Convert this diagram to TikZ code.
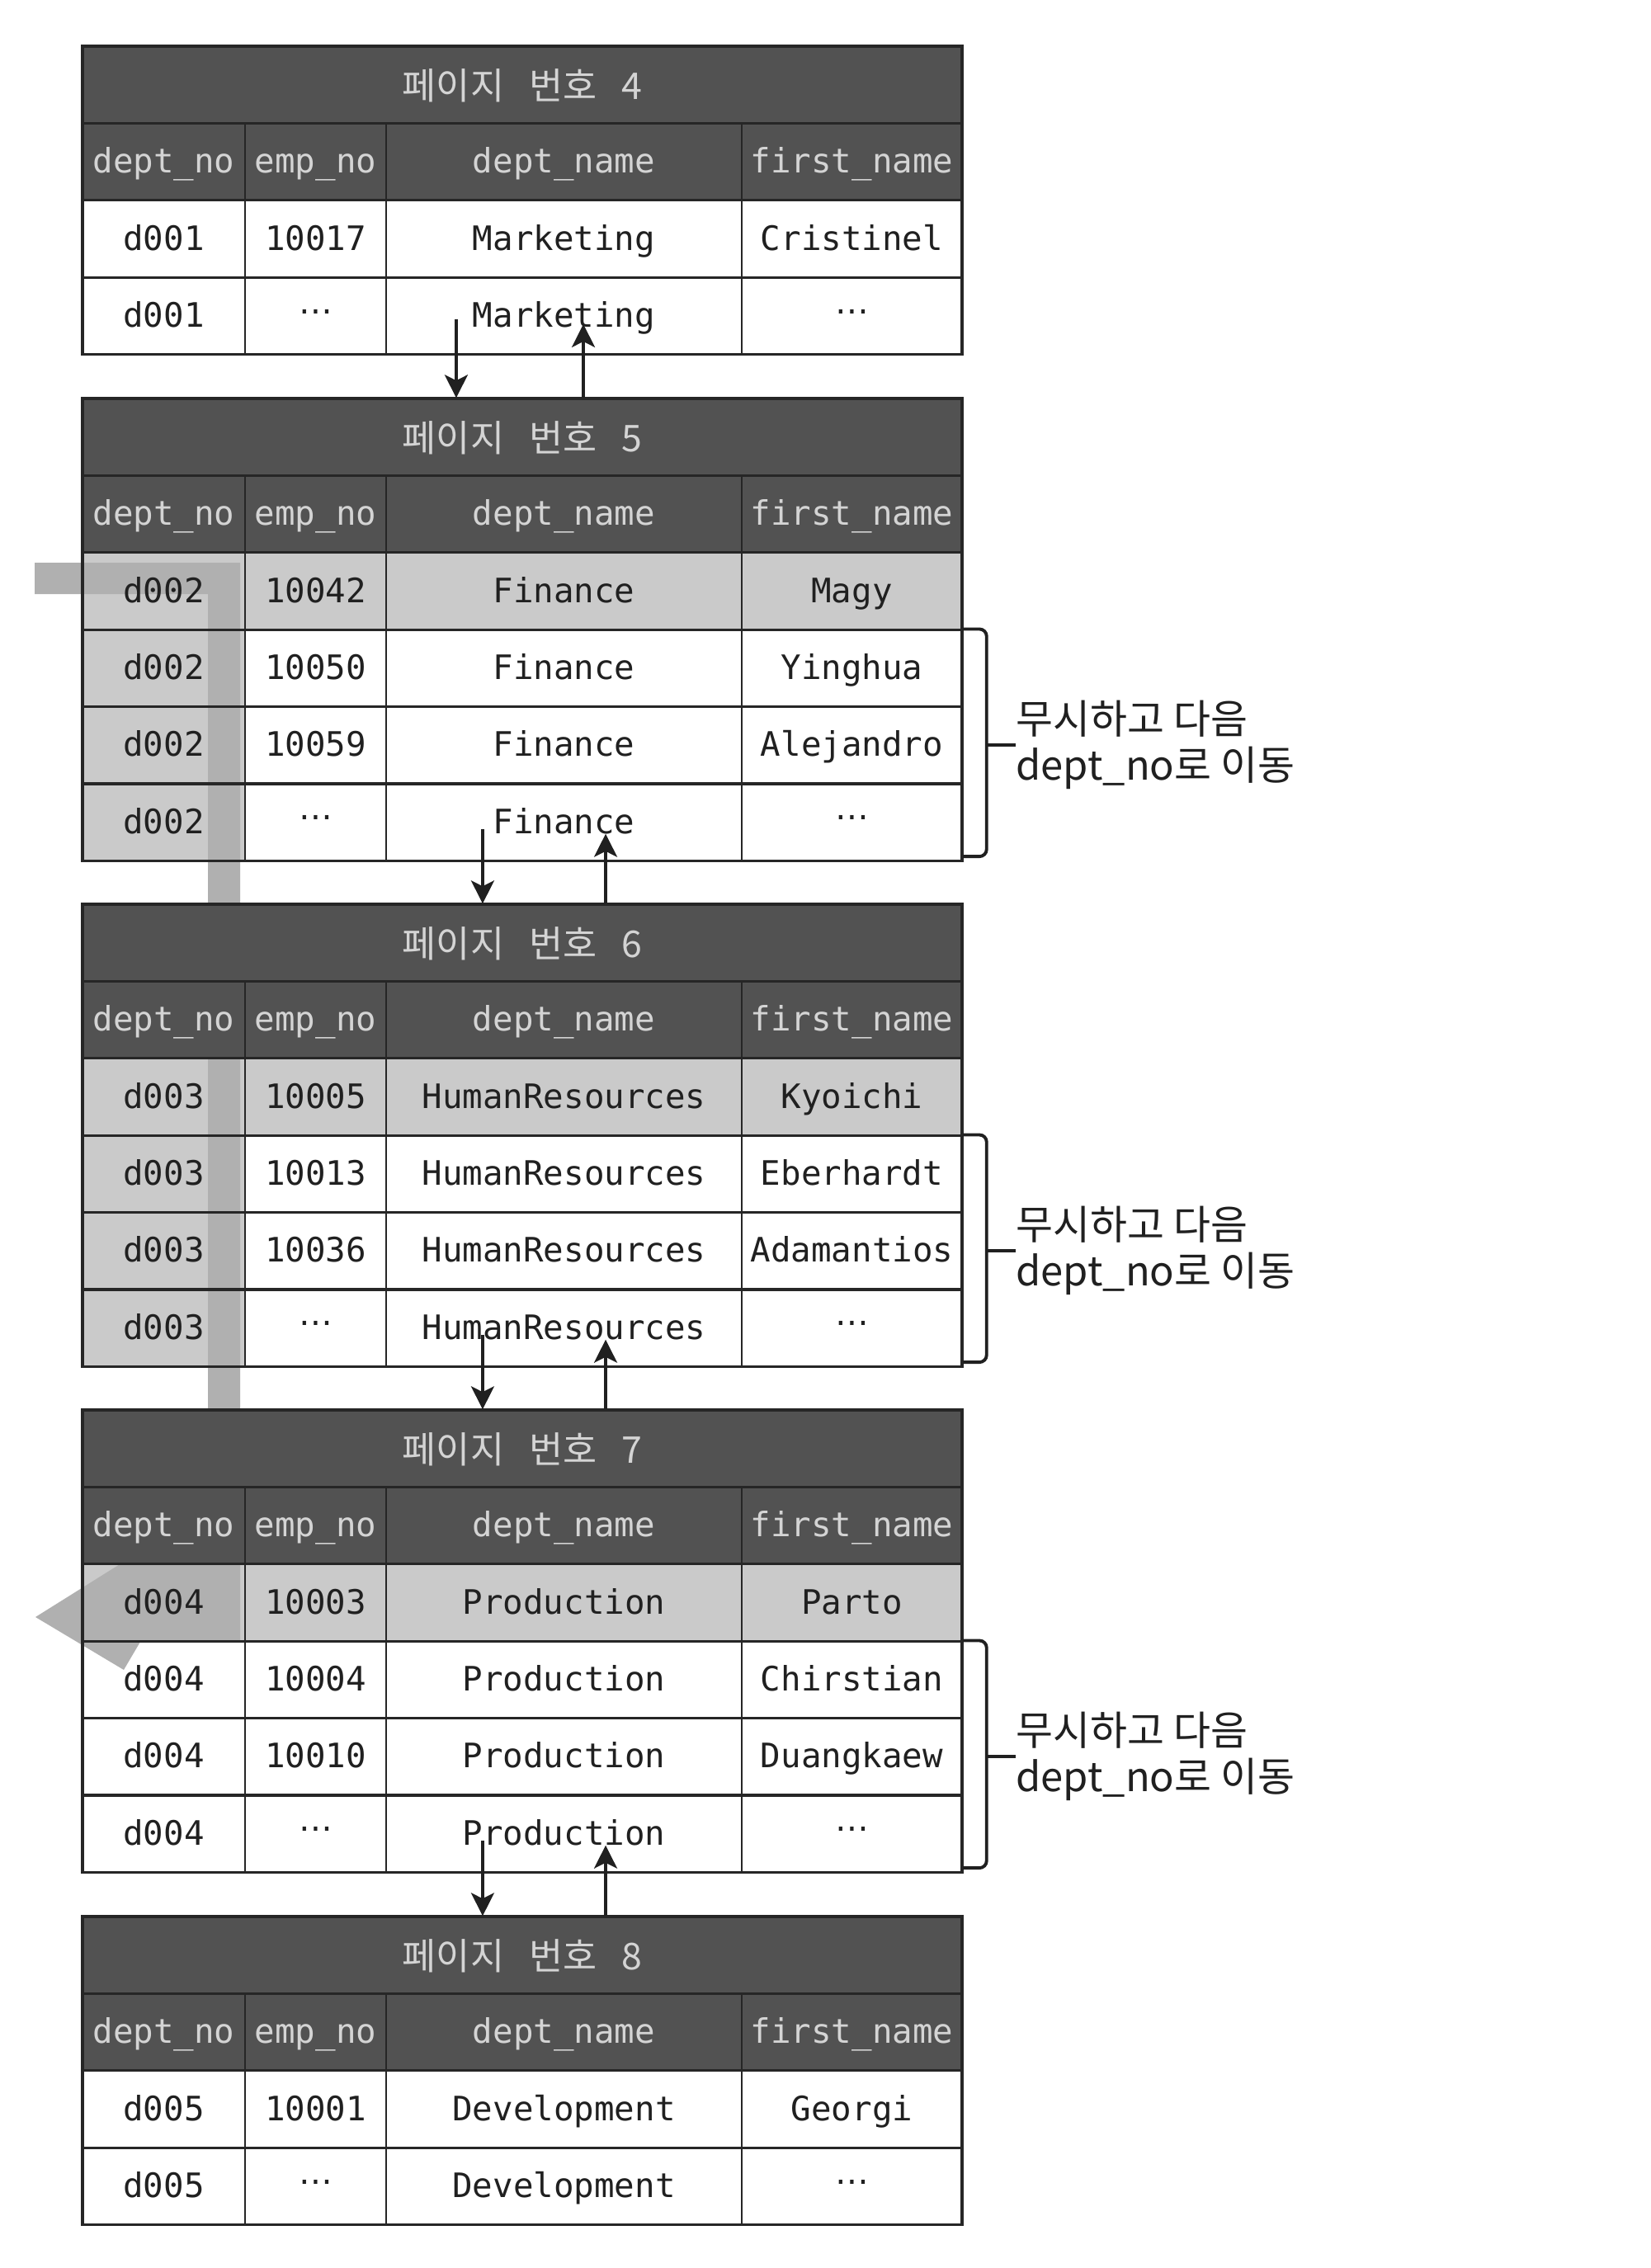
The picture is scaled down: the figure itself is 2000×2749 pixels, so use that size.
\documentclass[tikz,border=0pt]{standalone}
\usepackage{fontspec}
\newfontfamily\monof{DejaVu Sans Mono}
\newfontfamily\krf{Noto Sans CJK KR}
\newfontfamily\dvsf{DejaVu Sans}
\usetikzlibrary{arrows.meta,calc}
\pgfdeclarelayer{bgl}
\pgfdeclarelayer{bandl}
\pgfdeclarelayer{hdrl}
\pgfsetlayers{bgl,bandl,hdrl,main}
\definecolor{hl}{RGB}{202,202,202}
\definecolor{dark}{RGB}{82,82,82}
\definecolor{hdtxt}{RGB}{212,212,212}
\definecolor{bandc}{RGB}{176,176,176}
\definecolor{ink}{RGB}{32,32,32}
\definecolor{gridc}{RGB}{38,38,38}
\newcommand\mydots{\raisebox{0.4em}{\dvsf …}}
\tikzset{
 cellnode/.style={inner sep=0pt, minimum height=0.934cm, text height=0.27cm, text depth=0pt, font=\monof\fontsize{11.6pt}{13pt}\selectfont, text=ink},
 cellA/.style={cellnode, minimum width=1.97cm},
 cellB/.style={cellnode, minimum width=1.71cm},
 cellC/.style={cellnode, minimum width=4.31cm},
 cellD/.style={cellnode, minimum width=2.67cm},
 titlecell/.style={inner sep=0pt, minimum height=0.934cm, minimum width=10.66cm, text height=0.36cm, text depth=0pt, font=\krf\fontsize{12.7pt}{14pt}\selectfont, text=hdtxt},
 gridh/.style={draw=gridc, line width=0.9pt},
 gridv/.style={draw=gridc, line width=0.55pt},
 parr/.style={draw=ink, line width=0.9pt, -{Stealth[length=0.28cm,width=0.28cm,inset=0.07cm]}},
 brk/.style={draw=ink, line width=1.1pt},
 lab/.style={inner sep=0pt, anchor=west, align=left, text=ink, font=\krf\fontsize{13.9pt}{15.9pt}\selectfont},
}
\newcommand\drow[8]{%
 \node[cellA] (#1c1) at (198.5,#2) {#5};
 \node[cellB] (#1c2) at (382.5,#2) {#6};
 \node[cellC] (#1c3) at (683.5,#2) {#7};
 \node[cellD] (#1c4) at (1032.5,#2) {#8};
 \begin{pgfonlayer}{bgl}
 \fill[#3] (#1c1.north west) rectangle (#1c1.south east);
 \fill[#4] (#1c2.north west) rectangle (#1c4.south east);
 \end{pgfonlayer}}
\newcommand\phead[2]{%
 \node[titlecell] (p#1t) at (633,{#2+46.7}) {페이지\hspace{0.3cm}번호\hspace{0.3cm}#1};
 \node[cellA,text=hdtxt] (p#1h1) at (198.5,{#2+140.1}) {dept\_no};
 \node[cellB,text=hdtxt] (p#1h2) at (382.5,{#2+140.1}) {emp\_no};
 \node[cellC,text=hdtxt] (p#1h3) at (683.5,{#2+140.1}) {dept\_name};
 \node[cellD,text=hdtxt] (p#1h4) at (1032.5,{#2+140.1}) {first\_name};
 \begin{pgfonlayer}{hdrl}
 \fill[dark] (p#1t.north west) rectangle (p#1h4.south east);
 \end{pgfonlayer}}
\newcommand\pgrid[2]{%
 \pgfmathsetmacro\pbot{#1+#2*93.4}%
 \pgfmathtruncatemacro\pnm{#2-1}%
 \foreach \i in {1,...,\pnm}{\draw[gridh] (100,{#1+\i*93.4}) -- (1166,{#1+\i*93.4});}
 \foreach \xx in {297,468,899}{\draw[gridv] (\xx,{#1+93.4}) -- (\xx,\pbot);}
 \draw[gridh] (100,#1) rectangle (1166,\pbot);}
\newcommand\skipnote[1]{%
 \coordinate (b#1) at ($(p#1r2c4.north east)!0.5!(p#1r4c4.south east)+(29,0)$);
 \draw[brk,rounded corners=2.5pt] (p#1r2c4.north east) -| ([yshift=0.06cm]b#1 |- p#1r4c4.south east) -- ([yshift=0.06cm]p#1r4c4.south east);
 \node[lab] (lab#1) at ([xshift=0.35cm]b#1) {무시하고 다음\\dept\_no로 이동};
 \draw[brk] (b#1) -- (lab#1.west);}
\begin{document}
\begin{tikzpicture}[x=0.01cm,y=-0.01cm]
\begin{pgfonlayer}{bgl}\fill[white] (0,0) rectangle (2000,2749);\end{pgfonlayer}
\useasboundingbox (0,0) rectangle (2000,2749);
% page 4
\phead{4}{56}
\drow{p4r1}{289.5}{white}{white}{d001}{10017}{Marketing}{Cristinel}
\drow{p4r2}{382.9}{white}{white}{d001}{\mydots}{Marketing}{\mydots}
\pgrid{56}{4}
% page 5
\phead{5}{483}
\drow{p5r1}{716.5}{hl}{hl}{d002}{10042}{Finance}{Magy}
\drow{p5r2}{809.9}{hl}{white}{d002}{10050}{Finance}{Yinghua}
\drow{p5r3}{903.3}{hl}{white}{d002}{10059}{Finance}{Alejandro}
\drow{p5r4}{996.7}{hl}{white}{d002}{\mydots}{Finance}{\mydots}
\pgrid{483}{6}
% page 6
\phead{6}{1096}
\drow{p6r1}{1329.5}{hl}{hl}{d003}{10005}{HumanResources}{Kyoichi}
\drow{p6r2}{1422.9}{hl}{white}{d003}{10013}{HumanResources}{Eberhardt}
\drow{p6r3}{1516.3}{hl}{white}{d003}{10036}{HumanResources}{Adamantios}
\drow{p6r4}{1609.7}{hl}{white}{d003}{\mydots}{HumanResources}{\mydots}
\pgrid{1096}{6}
% page 7
\phead{7}{1709}
\drow{p7r1}{1942.5}{hl}{hl}{d004}{10003}{Production}{Parto}
\drow{p7r2}{2035.9}{white}{white}{d004}{10004}{Production}{Chirstian}
\drow{p7r3}{2129.3}{white}{white}{d004}{10010}{Production}{Duangkaew}
\drow{p7r4}{2222.7}{white}{white}{d004}{\mydots}{Production}{\mydots}
\pgrid{1709}{6}
% page 8
\phead{8}{2323}
\drow{p8r1}{2556.5}{white}{white}{d005}{10001}{Development}{Georgi}
\drow{p8r2}{2649.9}{white}{white}{d005}{\mydots}{Development}{\mydots}
\pgrid{2323}{4}
% scan path band
\begin{pgfonlayer}{bandl}
\fill[bandc] (42,682) -- (291,682) -- (291,1990) -- (170,1990) -- (150,2024) -- (43,1960) -- (150,1893) -- (252,1893) -- (252,720) -- (42,720) -- cycle;
\end{pgfonlayer}
% page links
\draw[parr] ([xshift=-1.305cm,yshift=-0.04cm]p4r2c3.center) -- ([xshift=-1.305cm]p4r2c3.center |- p5t.north);
\draw[parr] ([xshift=0.235cm]p4r2c3.center |- p5t.north) -- ([xshift=0.235cm,yshift=-0.1cm]p4r2c3.center);
\draw[parr] ([xshift=-0.985cm,yshift=-0.08cm]p5r4c3.center) -- ([xshift=-0.985cm]p5r4c3.center |- p6t.north);
\draw[parr] ([xshift=0.505cm]p5r4c3.center |- p6t.north) -- ([xshift=0.505cm,yshift=-0.14cm]p5r4c3.center);
\draw[parr] ([xshift=-0.985cm,yshift=-0.08cm]p6r4c3.center) -- ([xshift=-0.985cm]p6r4c3.center |- p7t.north);
\draw[parr] ([xshift=0.505cm]p6r4c3.center |- p7t.north) -- ([xshift=0.505cm,yshift=-0.14cm]p6r4c3.center);
\draw[parr] ([xshift=-0.985cm,yshift=-0.08cm]p7r4c3.center) -- ([xshift=-0.985cm]p7r4c3.center |- p8t.north);
\draw[parr] ([xshift=0.505cm]p7r4c3.center |- p8t.north) -- ([xshift=0.505cm,yshift=-0.14cm]p7r4c3.center);
% brackets
\skipnote{5}
\skipnote{6}
\skipnote{7}
\end{tikzpicture}
\end{document}
